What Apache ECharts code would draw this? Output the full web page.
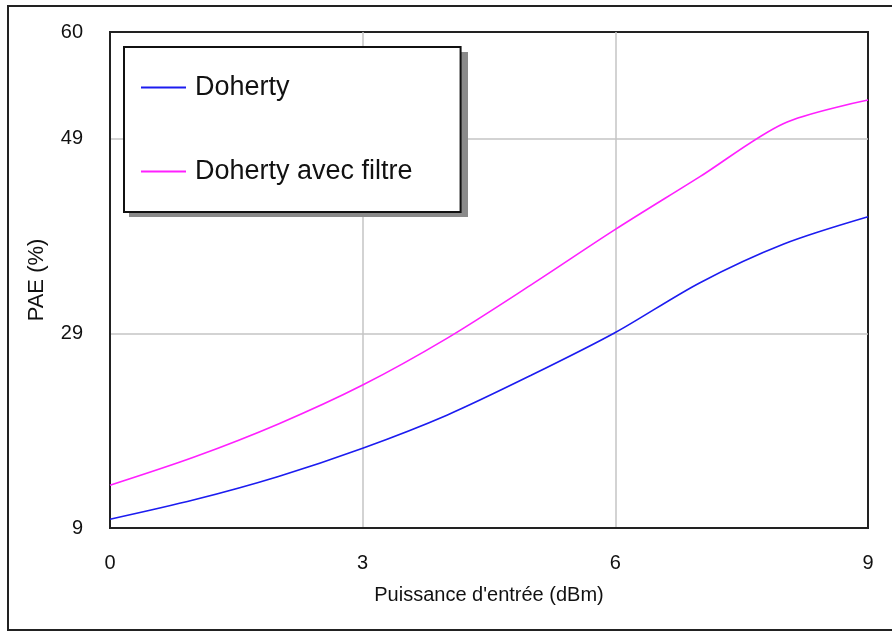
<!DOCTYPE html>
<html>
<head>
<meta charset="utf-8">
<script src="https://cdn.jsdelivr.net/npm/echarts@6/dist/echarts.min.js"></script>
<style>
  html, body { margin: 0; padding: 0; background: #fff; }
  #chart { width: 892px; height: 632px; }
</style>
</head>
<body>
<div id="chart"></div>
<script>
// Input power (dBm)
const inputPower = [0, 1, 2, 3, 4, 5, 6, 7, 8, 9];
// PAE (%) of the plain Doherty amplifier
const paeDoherty = [9.9, 11.9, 14.3, 17.2, 20.6, 24.7, 29.1, 34.2, 38.2, 41.0];
// PAE (%) of the Doherty amplifier with filter
const paeDohertyFiltre = [13.4, 16.3, 19.7, 23.7, 28.5, 34.0, 39.7, 45.1, 50.6, 53.0];
// Tick labels
const yTicks = [9, 29, 49, 60];
const xTicks = [0, 3, 6, 9];

const seriesNames = ['Doherty', 'Doherty avec filtre'];
const seriesColors = ['#1c1cf0', '#ff20ff'];

const font = 'Liberation Sans, Arial, sans-serif';

const chart = echarts.init(document.getElementById('chart'), null, { renderer: 'canvas' });

const toPairs = (ys) => inputPower.map((x, i) => [x, ys[i]]);

chart.setOption({
  animation: false,
  backgroundColor: '#ffffff',
  graphic: [
    // outer frame of the figure (right edge runs off the page)
    {
      type: 'rect',
      shape: { x: 8, y: 6, width: 900, height: 624 },
      style: { fill: 'none', stroke: '#222', lineWidth: 2 },
      silent: true,
      z: -1
    },
    // drop shadow behind the legend box
    {
      type: 'rect',
      shape: { x: 129, y: 52, width: 339, height: 165 },
      style: { fill: '#8a8a8a' },
      silent: true,
      z: 1
    }
  ],
  grid: {
    left: 110, top: 32, right: 24, bottom: 104,
    show: true,
    borderColor: '#222',
    borderWidth: 2,
    backgroundColor: 'transparent'
  },
  legend: {
    data: seriesNames.map((n) => ({ name: n, icon: 'rect' })),
    orient: 'vertical',
    left: 124,
    top: 47,
    width: 339,
    padding: [27, 48, 27, 17],
    itemGap: 57,
    itemWidth: 45,
    itemHeight: 2,
    z: 2,
    backgroundColor: '#ffffff',
    borderColor: '#111',
    borderWidth: 2,
    textStyle: { fontFamily: font, fontSize: 27, color: '#111', padding: [0, 0, 0, 4] }
  },
  xAxis: {
    type: 'value',
    min: 0,
    max: 9,
    interval: 3,
    name: "Puissance d'entrée (dBm)",
    nameLocation: 'middle',
    nameGap: 57,
    nameTextStyle: { fontFamily: font, fontSize: 20, color: '#111' },
    axisLine: { show: true, lineStyle: { color: '#222', width: 2 } },
    axisTick: { show: false, customValues: xTicks },
    axisLabel: { fontFamily: font, fontSize: 20, color: '#111', margin: 25, customValues: xTicks },
    splitLine: { show: true, showMinLine: false, showMaxLine: false, lineStyle: { color: '#c4c4c4', width: 1.5 } }
  },
  yAxis: {
    type: 'value',
    min: 9,
    max: 60,
    name: 'PAE (%)',
    nameLocation: 'middle',
    nameGap: 62,
    nameTextStyle: { fontFamily: font, fontSize: 22, color: '#111' },
    axisLine: { show: true, lineStyle: { color: '#222', width: 2 } },
    axisTick: { show: false, customValues: yTicks },
    axisLabel: { fontFamily: font, fontSize: 20, color: '#111', margin: 27, padding: [5, 0, 0, 0], customValues: yTicks },
    splitLine: { show: true, showMinLine: false, showMaxLine: false, lineStyle: { color: '#c4c4c4', width: 1.5 } }
  },
  series: seriesNames.map((name, i) => ({
    name: name,
    type: 'line',
    smooth: 0.3,
    showSymbol: false,
    data: toPairs(i === 0 ? paeDoherty : paeDohertyFiltre),
    lineStyle: { color: seriesColors[i], width: 1.6 },
    itemStyle: { color: seriesColors[i] },
    z: 3
  }))
});
</script>
</body>
</html>
